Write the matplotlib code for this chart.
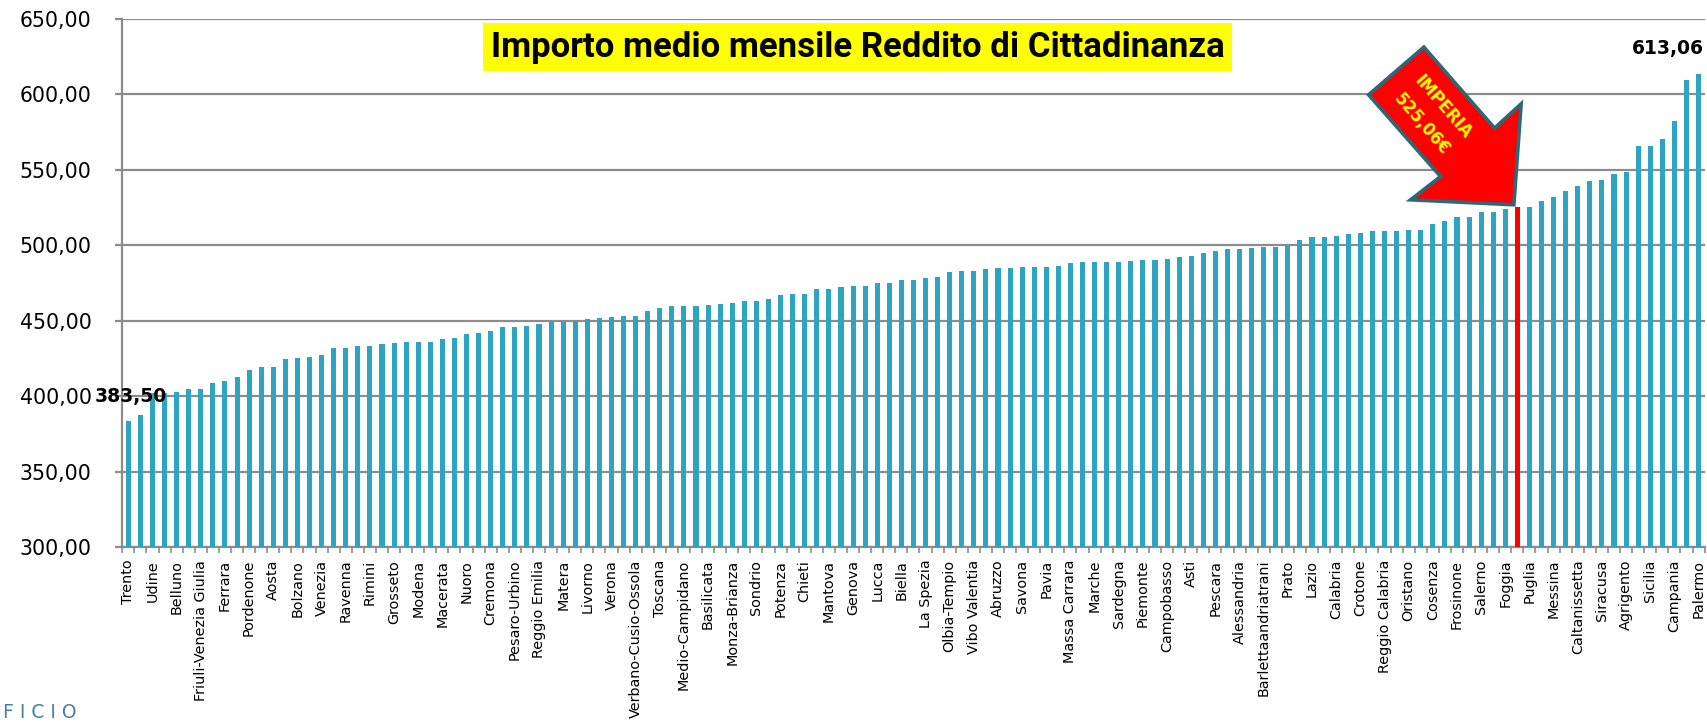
#!/usr/bin/env python3
"""Importo medio mensile Reddito di Cittadinanza, per provincia/regione.

Saída: out.png
"""

import numpy as np
import matplotlib.pyplot as plt
import matplotlib.transforms as mtransforms
from matplotlib.patches import Polygon


OUT = "out.png"

# etichette visibili sull'asse (una barra sì e una no)
shown_labels = [
    "Trento", "Udine", "Belluno", "Friuli-Venezia Giulia", "Ferrara", "Pordenone",
    "Aosta", "Bolzano", "Venezia", "Ravenna", "Rimini", "Grosseto", "Modena",
    "Macerata", "Nuoro", "Cremona", "Pesaro-Urbino", "Reggio Emilia", "Matera",
    "Livorno", "Verona", "Verbano-Cusio-Ossola", "Toscana", "Medio-Campidano",
    "Basilicata", "Monza-Brianza", "Sondrio", "Potenza", "Chieti", "Mantova",
    "Genova", "Lucca", "Biella", "La Spezia", "Olbia-Tempio", "Vibo Valentia",
    "Abruzzo", "Savona", "Pavia", "Massa Carrara", "Marche", "Sardegna",
    "Piemonte", "Campobasso", "Asti", "Pescara", "Alessandria",
    "Barlettaandriatrani", "Prato", "Lazio", "Calabria", "Crotone",
    "Reggio Calabria", "Oristano", "Cosenza", "Frosinone", "Salerno", "Foggia",
    "Puglia", "Messina", "Caltanissetta", "Siracusa", "Agrigento", "Sicilia",
    "Campania", "Palermo",
]

# importo medio mensile (EUR), tutte le barre in ordine crescente
values = [
    383.50, 387.4, 402.0, 402.4, 403.0, 404.6, 404.6, 408.8, 410.1, 412.8,
    417.2, 419.6, 419.6, 424.7, 425.2, 426.2, 427.1, 431.8, 431.8, 433.1,
    433.1, 434.6, 435.1, 435.8, 435.8, 436.2, 437.7, 438.8, 441.1, 441.7,
    443.0, 445.7, 445.7, 446.8, 447.6, 449.5, 449.5, 449.8, 451.1, 451.8,
    452.2, 453.3, 453.3, 456.2, 458.2, 459.5, 459.5, 460.0, 460.6, 461.3,
    462.0, 463.1, 463.3, 464.6, 467.1, 467.7, 467.7, 471.1, 471.3, 472.1,
    473.0, 473.3, 475.0, 475.2, 477.0, 477.2, 478.4, 479.2, 482.3, 482.8,
    483.0, 484.1, 484.8, 484.8, 485.7, 485.7, 485.7, 486.4, 488.5, 488.7,
    488.7, 488.9, 489.1, 489.6, 490.3, 490.3, 491.2, 492.4, 493.1, 494.7,
    496.1, 497.5, 497.7, 497.9, 499.1, 499.1, 499.8, 503.2, 505.3, 505.5,
    506.0, 507.4, 508.1, 509.5, 509.5, 509.7, 510.3, 510.3, 513.8, 515.9,
    518.8, 518.8, 522.1, 522.1, 524.1, 525.06, 525.6, 529.1, 532.1, 535.9,
    539.4, 542.6, 542.9, 547.1, 548.5, 565.6, 565.6, 570.3, 582.1, 609.7,
    613.06,
]

IMPERIA = 115
yticks = [300, 350, 400, 450, 500, 550, 600, 650]

BAR = "#2fa4c2"
GRID = "#8c8c8c"


def fmt(v):
    return f"{v:.2f}".replace(".", ",")


def main():
    fig = plt.figure(figsize=(17.08, 7.25), dpi=100)
    ax = fig.add_axes([0.0716, 0.2451, 0.9264, 0.7291])

    x = np.arange(len(values))
    colors = [BAR] * len(values)
    colors[IMPERIA] = "#ff0000"
    ax.bar(x, values, width=0.42, color=colors, zorder=3)

    ax.set_xlim(-0.5, len(values) - 0.5)
    ax.set_ylim(yticks[0], yticks[-1])
    ax.set_yticks(yticks)
    ax.set_yticklabels([fmt(v) for v in yticks])
    ax.yaxis.grid(True, color=GRID, lw=1.6, zorder=0)

    ax.set_xticks(x[::2])
    ax.set_xticklabels(shown_labels, rotation=90, fontsize=10.4)
    ax.set_xticks(np.arange(len(values) + 1) - 0.5, minor=True)
    ax.tick_params(axis="x", which="major", length=0, pad=9)
    ax.tick_params(axis="x", which="minor", length=4.5, color=GRID, width=1.2)
    ax.tick_params(axis="y", length=5, color=GRID, width=1.6, pad=17, labelsize=14.8)

    for s in ("top", "right"):
        ax.spines[s].set_visible(False)
    for s in ("left", "bottom"):
        ax.spines[s].set_color(GRID)
        ax.spines[s].set_linewidth(1.6)

    # etichette min / max
    ax.annotate(fmt(values[0]), (0, values[0]), xytext=(2, 18),
                textcoords="offset points", ha="center", va="center",
                fontsize=13.5, fontweight="bold", zorder=6)
    ax.annotate(fmt(values[-1]), (len(values) - 1, values[-1]), xytext=(-22, 19),
                textcoords="offset points", ha="center", va="center",
                fontsize=13.5, fontweight="bold", zorder=6)

    # freccia su Imperia (forma in pollici, ancorata alla cima della barra)
    trans = fig.dpi_scale_trans + mtransforms.ScaledTranslation(
        IMPERIA, values[IMPERIA], ax.transData)
    shape = np.array([
        (-93.5, 160.3), (-148.8, 112.6), (-76.8, 30.9), (-106.8, 7.6),
        (-3.5, 2.6), (3.8, 103.6), (-22.8, 79.3),
    ]) / 100
    ax.add_patch(Polygon(shape, closed=True, transform=trans, facecolor="#ff0000",
                         edgecolor="#2a6a78", lw=2.6, joinstyle="miter",
                         clip_on=False, zorder=5))
    ax.text(-0.745, 1.003, "IMPERIA", transform=trans, rotation=-49,
            rotation_mode="anchor", ha="center", va="center", color="#ffff00",
            fontsize=12, fontweight="bold", zorder=6)
    ax.text(-0.955, 0.836, fmt(values[IMPERIA]) + "€", transform=trans, rotation=-49,
            rotation_mode="anchor", ha="center", va="center", color="#ffff00",
            fontsize=12, fontweight="bold", zorder=6)

    fig.text(857.5 / 1708, 1 - 47 / 725, "Importo medio mensile Reddito di Cittadinanza",
             ha="center", va="center", fontsize=25, fontweight="bold",
             family="Roboto",
             bbox=dict(boxstyle="square,pad=0.22", facecolor="#ffff00", edgecolor="none"))

    fig.text(0.002, 13 / 725, "F I C I O", ha="left", va="center",
             fontsize=13.5, color="#4a7fa8")

    fig.savefig(OUT, dpi=100)
    plt.close(fig)


if __name__ == "__main__":
    main()
